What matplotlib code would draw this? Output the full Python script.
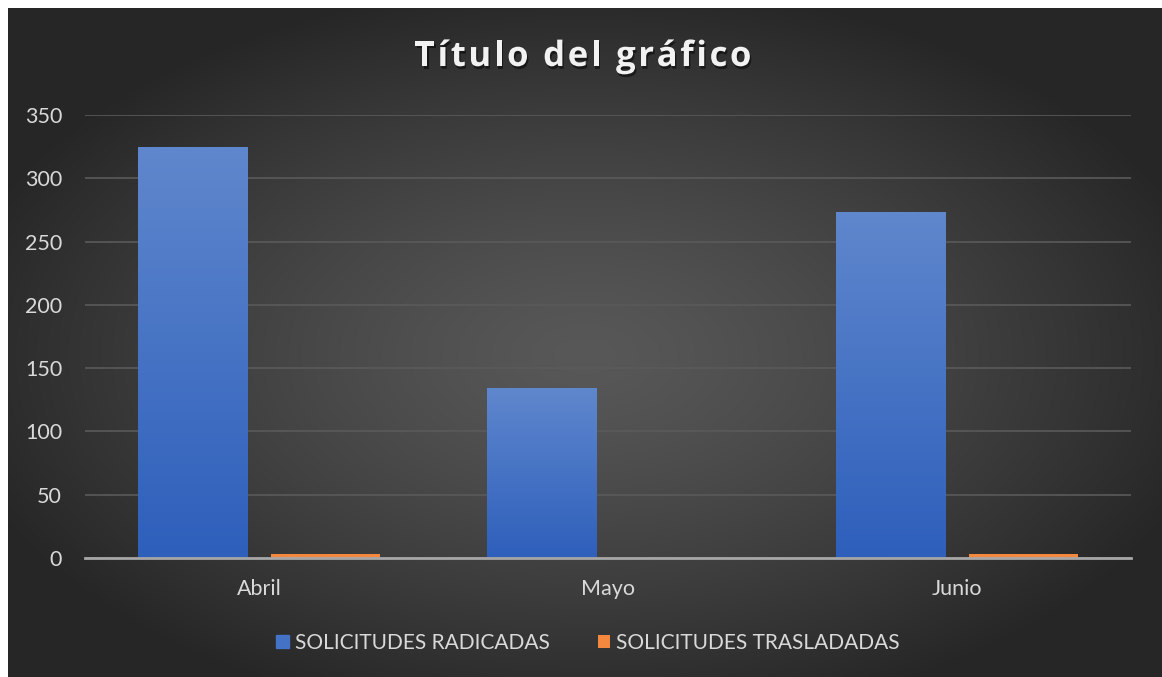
import numpy as np
import matplotlib.pyplot as plt
import matplotlib.patheffects as pe

# Datos del gráfico
meses = ["Abril", "Mayo", "Junio"]
radicadas = [325, 134, 273]
trasladadas = [3, 0, 3]
series = ["SOLICITUDES RADICADAS", "SOLICITUDES TRASLADADAS"]
yticks = [0, 50, 100, 150, 200, 250, 300, 350]
titulo = "Título del gráfico"

W, H = 1162, 677
plt.rcParams['font.family'] = ['Lato', 'DejaVu Sans']

fig = plt.figure(figsize=(W / 100, H / 100), dpi=100, facecolor='white')

# Fondo con degradado radial
bg = fig.add_axes([8 / W, 0, 1 - 8 / W, 1 - 8 / H])
yy, xx = np.mgrid[0:1:300j, 0:1:500j]
r = np.sqrt(((xx - 0.5) / 0.75) ** 2 + ((yy - 0.52) / 0.75) ** 2)
r = np.clip(r / 0.75, 0, 1)
val = 0.345 - (0.345 - 0.15) * r ** 1.3
img = np.dstack([val, val, val])
bg.imshow(img, aspect='auto', extent=[0, 1, 0, 1], interpolation='bicubic')
bg.axis('off')

# Ejes del gráfico
ax = fig.add_axes([85 / W, (H - 558) / H, (1131 - 85) / W, (558 - 115) / H])
ax.set_facecolor('none')
x = np.arange(len(meses))
w = 0.313
off = (w + 0.069) / 2

b1 = ax.bar(x - off, radicadas, w, color='#4472c4', zorder=3)
b2 = ax.bar(x + off, trasladadas, w, color='#f4883f', zorder=3)

# degradado y sombra de las barras
grad_b = np.linspace(0, 1, 100).reshape(-1, 1)
blue_top = np.array([0x5f, 0x87, 0xcd]) / 255
blue_bot = np.array([0x2e, 0x5f, 0xbb]) / 255
gimg = blue_bot + (blue_top - blue_bot) * grad_b[:, :, None]
for bar in b1:
    bar.set_path_effects([pe.SimplePatchShadow(offset=(0, 0), shadow_rgbFace='black', alpha=0.35), pe.Normal()])
    x0, y0 = bar.get_x(), bar.get_y()
    im = ax.imshow(gimg, extent=[x0, x0 + bar.get_width(), y0, y0 + bar.get_height()],
                   aspect='auto', origin='lower', zorder=3.5)
    im.set_clip_path(bar)

ax.set_xlim(-0.5, 2.5)
ax.set_ylim(0, 350)
ax.set_yticks(yticks)
ax.set_xticks(x)
ax.set_xticklabels(meses)
ax.grid(axis='y', color='#5a5a5a', linewidth=1.2, zorder=0)
for s in ['top', 'right', 'left']:
    ax.spines[s].set_visible(False)
ax.spines['bottom'].set_color('#a6a6a6')
ax.spines['bottom'].set_linewidth(2)
ax.spines['bottom'].set_zorder(4)
ax.tick_params(axis='both', length=0, colors='#d9d9d9', labelsize=15.5)
ax.tick_params(axis='x', pad=15)
ax.tick_params(axis='y', pad=16.5)

# Título con espaciado entre letras
renderer = fig.canvas.get_renderer()
tkw = dict(fontsize=25, fontweight='bold', color='#f2f2f2', family=['Open Sans', 'DejaVu Sans'],
           va='center', ha='left',
           path_effects=[pe.withSimplePatchShadow(offset=(1, -2), shadow_rgbFace='black', alpha=0.5)])
sp = 2.6
anchos = []
for c in titulo:
    t = fig.text(0, 0, c if c != ' ' else 'a', **tkw)
    bb = t.get_window_extent(renderer)
    anchos.append(bb.width if c != ' ' else bb.width * 0.45)
    t.remove()
total = sum(anchos) + sp * (len(titulo) - 1)
xpos = 583 - total / 2
for c, a in zip(titulo, anchos):
    if c != ' ':
        fig.text(xpos / W, 1 - 57 / H, c, **tkw)
    xpos += a + sp

# Leyenda
leg = fig.legend([b1[0], b2[0]], series, loc='center', bbox_to_anchor=(588 / W, 1 - 643 / H),
                 ncol=2, frameon=False, fontsize=15, labelcolor='#d9d9d9',
                 handlelength=0.6, handleheight=0.6, handletextpad=0.3, columnspacing=2.3)
leg.legend_handles[0].set_color('#4472c4')

fig.savefig('out.png', dpi=100, facecolor='white')
